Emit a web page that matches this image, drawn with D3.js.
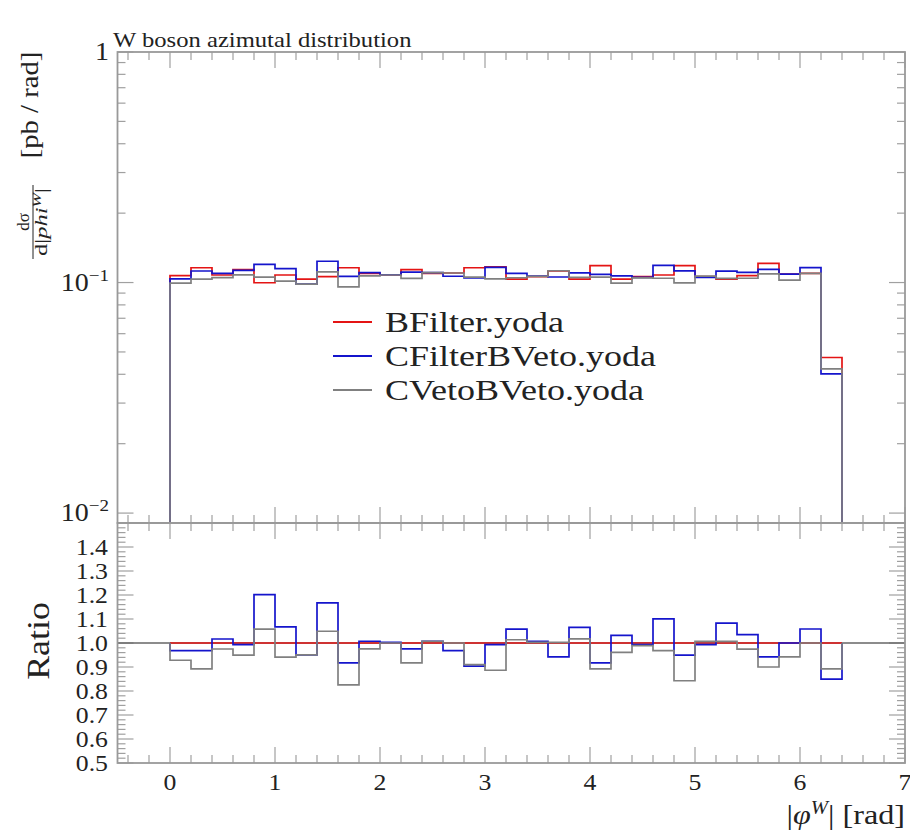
<!DOCTYPE html>
<html><head><meta charset="utf-8">
<script src="https://cdn.jsdelivr.net/npm/d3@7"></script>
<style>
body{margin:0;background:#fff}
svg{display:block}
text{font-family:"Liberation Serif","DejaVu Serif",serif;fill:#222}
</style>
</head><body>
<svg id="c" width="910" height="830"></svg>
<script>
// ---------------- data ----------------
const binLow = [0.0,0.2,0.4,0.6,0.8,1.0,1.2,1.4,1.6,1.8,2.0,2.2,2.4,2.6,2.8,3.0,
                3.2,3.4,3.6,3.8,4.0,4.2,4.4,4.6,4.8,5.0,5.2,5.4,5.6,5.8,6.0,6.2];
const binWidth = 0.2;
const seriesNames = ["BFilter.yoda","CFilterBVeto.yoda","CVetoBVeto.yoda"];
const seriesColors = ["#e41414","#1414cc","#808080"];
const bFilter = [0.1071,0.1159,0.1078,0.1137,0.0998,0.1078,0.1035,0.1060,0.1159,0.1096,0.1078,0.1137,0.1096,0.1100,0.1159,0.1171,
                 0.1035,0.1060,0.1122,0.1035,0.1183,0.1035,0.1060,0.1078,0.1183,0.1060,0.1035,0.1071,0.1211,0.1088,0.1096,0.0473];
const cFilterBVeto = [0.1037,0.1122,0.1096,0.1129,0.1199,0.1150,0.0984,0.1237,0.1063,0.1104,0.1081,0.1109,0.1104,0.1065,0.1047,0.1163,
                 0.1095,0.1067,0.1057,0.1102,0.1085,0.1068,0.1053,0.1186,0.1123,0.1053,0.1121,0.1108,0.1141,0.1088,0.1160,0.0402];
const cVetoBVeto = [0.0994,0.1034,0.1051,0.1080,0.1056,0.1015,0.0984,0.1112,0.0957,0.1069,0.1078,0.1043,0.1104,0.1100,0.1055,0.1038,
                 0.1049,0.1063,0.1125,0.1053,0.1055,0.0995,0.1048,0.1044,0.0997,0.1067,0.1042,0.1044,0.1090,0.1025,0.1096,0.0422];
const xTickValues = [0,1,2,3,4,5,6,7];
const ratioTickValues = [0.5,0.6,0.7,0.8,0.9,1.0,1.1,1.2,1.3,1.4];
const mainTickValues = [1,0.1,0.01];
const mainTickExponents = ["", "\u22121", "\u22122"];
const titleText = "W boson azimutal distribution";

// ---------------- layout ----------------
const L = 117.5, R = 905, T = 52, MB = 523, RB = 763;
const svg = d3.select("#c");
const x = d3.scaleLinear().domain([-0.5, 7]).range([L, R]);
const y = d3.scaleLog().domain([Math.pow(10,-2.043), 1]).range([MB, T]);
const yr = d3.scaleLinear().domain([0.5, 1.5]).range([RB, MB]);
const series = [bFilter, cFilterBVeto, cVetoBVeto];
const frameCol = "#999", tickCol = "#a0a0a0";

function txt(px, py, size, sx, anchor, rot) {
  return svg.append("text")
    .attr("transform", `translate(${px},${py})` + (rot ? ` rotate(${rot})` : "") + ` scale(${sx},1)`)
    .attr("font-size", size).attr("text-anchor", anchor || "start");
}

svg.append("defs").call(d => {
  d.append("clipPath").attr("id","cm").append("rect").attr("x",L).attr("y",T).attr("width",R-L).attr("height",MB-T);
  d.append("clipPath").attr("id","cr").append("rect").attr("x",L).attr("y",MB).attr("width",R-L).attr("height",RB-MB);
});

// title
txt(113, 47, 22, 1.12).text(titleText);

// ---------------- ticks ----------------
const xMinor = d3.range(-0.4, 7.0001, 0.2).map(v => +v.toFixed(1)).filter(v => Math.abs(v - Math.round(v)) > 1e-6);
function xTicks(yPos, dir) {
  const g = svg.append("g").attr("stroke", tickCol).attr("stroke-width",1.2);
  xTickValues.forEach(v => g.append("line").attr("x1",x(v)).attr("x2",x(v)).attr("y1",yPos).attr("y2",yPos+dir*16));
  xMinor.forEach(v => g.append("line").attr("x1",x(v)).attr("x2",x(v)).attr("y1",yPos).attr("y2",yPos+dir*8));
}
xTicks(T, 1); xTicks(MB, -1); xTicks(MB, 1); xTicks(RB, -1);

const mainMinor = [];
[0.01, 0.1].forEach(d => { for (let k = 2; k <= 9; k++) mainMinor.push(d*k); });
const rmin = d3.range(0.52, 1.5, 0.02).map(v=>+v.toFixed(2)).filter(v => Math.abs(v*10 - Math.round(v*10)) > 1e-6);
[[L,1],[R,-1]].forEach(([xp,dir]) => {
  const g = svg.append("g").attr("stroke", tickCol).attr("stroke-width",1.2);
  mainTickValues.forEach(v => g.append("line").attr("x1",xp).attr("x2",xp+dir*16).attr("y1",y(v)).attr("y2",y(v)));
  mainMinor.forEach(v => g.append("line").attr("x1",xp).attr("x2",xp+dir*8).attr("y1",y(v)).attr("y2",y(v)));
  ratioTickValues.forEach(v => g.append("line").attr("x1",xp).attr("x2",xp+dir*16).attr("y1",yr(v)).attr("y2",yr(v)));
  rmin.forEach(v => g.append("line").attr("x1",xp).attr("x2",xp+dir*8).attr("y1",yr(v)).attr("y2",yr(v)));
});

// ---------------- histograms ----------------
function stepPts(vals, base, sc) {
  const pts = [[x(binLow[0]), sc(base)]];
  vals.forEach((v,i) => { pts.push([x(binLow[i]), sc(v)]); pts.push([x(binLow[i]+binWidth), sc(v)]); });
  pts.push([x(binLow[binLow.length-1]+binWidth), sc(base)]);
  return pts;
}
const line = d3.line();
const gm = svg.append("g").attr("clip-path","url(#cm)");
series.forEach((s,i) => {
  gm.append("path").attr("d", line(stepPts(s, y.domain()[0], y))).attr("fill","none")
    .attr("stroke", seriesColors[i]).attr("stroke-width",1.7);
});

const gr = svg.append("g").attr("clip-path","url(#cr)");
gr.append("line").attr("x1",L).attr("x2",R).attr("y1",yr(1)).attr("y2",yr(1)).attr("stroke","#666").attr("stroke-width",1.3);
series.forEach((s,i) => {
  const rv = s.map((v,j) => v / bFilter[j]);
  gr.append("path").attr("d", line(stepPts(rv, 1, yr))).attr("fill","none")
    .attr("stroke", seriesColors[i]).attr("stroke-width",1.7);
});

[[T,MB],[MB,RB]].forEach(([a,b]) => {
  svg.append("rect").attr("x",L).attr("y",a).attr("width",R-L).attr("height",b-a)
    .attr("fill","none").attr("stroke",frameCol).attr("stroke-width",1.8);
});

// ---------------- labels ----------------
mainTickValues.forEach((v,i) => {
  const t = txt(109, y(v)+8, 25, 1.12, "end");
  if (i === 0) t.text("1");
  else { t.append("tspan").text("10"); t.append("tspan").attr("dy",-10).attr("font-size",17).text(mainTickExponents[i]); }
});
ratioTickValues.forEach(v => {
  txt(108, yr(v)+8, 23, 1.12, "end").text(v.toFixed(1));
});
xTickValues.forEach(v => {
  txt(x(v), 790, 23, 1.12, "middle").text(String(v));
});

// x label
const xl = txt(905, 824, 28, 1.15, "end");
xl.append("tspan").text("|");
xl.append("tspan").attr("font-style","italic").text("\u03C6");
xl.append("tspan").attr("dy",-10).attr("font-size",18).attr("font-style","italic").text("W");
xl.append("tspan").attr("dy",10).text("| [rad]");

// y label main
txt(38, 105, 26, 1.1, "middle", -90).text("[pb / rad]");
const fr = svg.append("g").attr("transform","translate(33,222) rotate(-90)");
fr.append("line").attr("x1",-37).attr("x2",37).attr("y1",0).attr("y2",0).attr("stroke","#222").attr("stroke-width",1);
fr.append("text").attr("text-anchor","middle").attr("y",-4).attr("font-size",17).text("d\u03C3");
const den = fr.append("text").attr("text-anchor","middle").attr("y",14).attr("font-size",17)
  .attr("textLength",68).attr("lengthAdjust","spacingAndGlyphs");
den.append("tspan").text("d|");
den.append("tspan").attr("font-style","italic").text("phi");
den.append("tspan").attr("dy",-6).attr("font-size",12).attr("font-style","italic").text("W");
den.append("tspan").attr("dy",6).text("|");

// ratio label
txt(49, 641, 32, 1.12, "middle", -90).text("Ratio");

// legend
seriesNames.forEach((n,i) => {
  const yy = 322 + i*34;
  svg.append("line").attr("x1",333).attr("x2",372).attr("y1",yy).attr("y2",yy)
    .attr("stroke",seriesColors[i]).attr("stroke-width",1.8);
  txt(385, yy+10, 30, 1.2).text(n);
});
</script>
</body></html>
